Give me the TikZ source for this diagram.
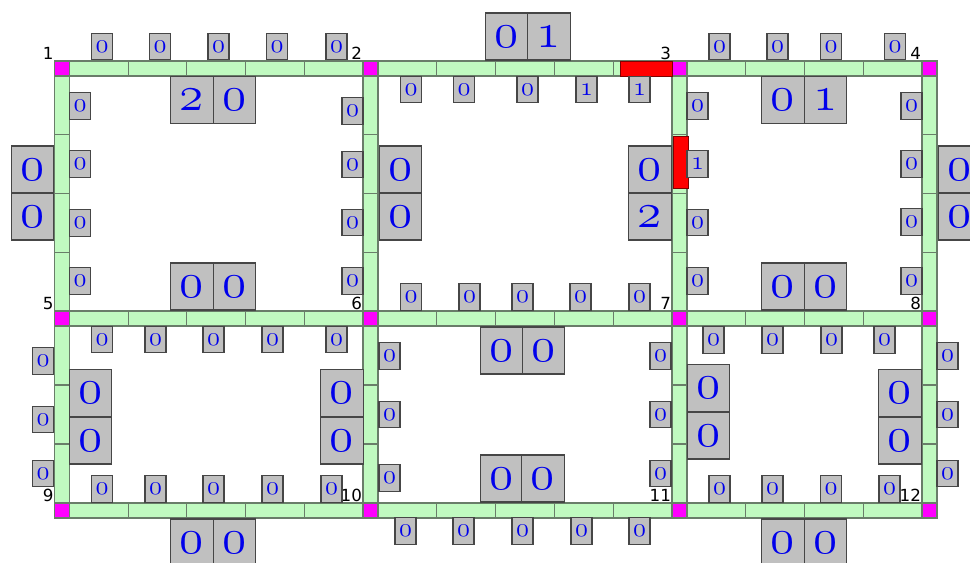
\RequirePackage{fix-cm}
\documentclass[tikz,border=0pt]{standalone}
\usepackage{fontspec}
\usetikzlibrary{positioning, calc}
\newfontfamily\vtxfont{DejaVu Sans}
\definecolor{roadgreen}{RGB}{192, 250, 192}
\definecolor{roadedge}{RGB}{105, 125, 105}
\definecolor{cellgray}{RGB}{192, 192, 192}
\definecolor{celledge}{RGB}{70, 70, 70}
\definecolor{vtxpink}{RGB}{255, 0, 255}
\definecolor{digitblue}{RGB}{0, 0, 235}
\newcommand{\odig}[1]{\legacyoldstylenums{#1}}

\tikzset{
  seg/.style={fill=roadgreen, draw=roadedge, line width=0.6pt},
  vtx/.style={rectangle, fill=vtxpink, draw=roadedge, line width=0.6pt,
    minimum size=0.3cm, inner sep=0pt, outer sep=0pt},
  vlabel/.style={font=\vtxfont\fontsize{9.5}{10}\selectfont, inner sep=0.4pt},
  smallcell/.style={rectangle, fill=cellgray, draw=celledge, line width=0.6pt,
    minimum width=0.42cm, minimum height=0.53cm, inner sep=0pt,
    text=digitblue, font=\fontsize{15}{15}\selectfont},
  bigcell/.style={smallcell, minimum width=0.85cm, minimum height=0.94cm,
    text depth=-0.05cm, font=\bfseries\fontsize{28}{28}\selectfont},
  blocked/.style={fill=red, draw=red!50!black, line width=0.5pt},
}

\begin{document}
\begin{tikzpicture}[x=0.02cm, y=-0.02cm]
\useasboundingbox (0,0) rectangle (970,563);
\clip (0,0) rectangle (970,563);
\fill[white] (0,0) rectangle (970,563);

% ============================================================
% Kreuzungen 1--12
% ============================================================
\foreach \k/\x/\y in {1/62/68.5, 2/370.5/68.5, 3/679.5/68.5, 4/929.5/68.5,
                      5/62/318.5, 6/370.5/318.5, 7/679.5/318.5, 8/929.5/318.5,
                      9/62/510.5, 10/370.5/510.5, 11/679.5/510.5, 12/929.5/510.5}
  \node[vtx] (v\k) at (\x,\y) {};

% Strassen: waagrecht (von/nach/Abschnitte)
\foreach \a/\b/\n in {1/2/5, 2/3/5, 3/4/4, 5/6/5, 6/7/5, 7/8/4, 9/10/5, 10/11/5, 11/12/4}
  \foreach \i in {1,...,\n}
    \draw[seg] ($(v\a.north east)!{(\i-1)/\n}!(v\b.north west)$)
      rectangle ($(v\a.south east)!{\i/\n}!(v\b.south west)$);

% Strassen: senkrecht
\foreach \a/\b/\n in {1/5/4, 2/6/4, 3/7/4, 4/8/4, 5/9/3, 6/10/3, 7/11/3, 8/12/3}
  \foreach \i in {1,...,\n}
    \draw[seg] ($(v\a.south west)!{(\i-1)/\n}!(v\b.north west)$)
      rectangle ($(v\a.south east)!{\i/\n}!(v\b.north east)$);

% gesperrte Abschnitte (rot)
\fill[blocked] (620,61) rectangle (672,76);
\fill[blocked] (673,136) rectangle (688,188);

% Nummern
\foreach \k in {1,...,12}
  \node[vlabel, above left=0pt of v\k] (l\k) {\k};

% ============================================================
% kleine Zaehler an den Abschnitten
% ============================================================
% oberste Reihe
\foreach \x/\t [count=\k] in {102/0, 160/0, 218.5/0, 277/0, 336.5/0}
  \node[smallcell] (s12-\k) at (\x,46.5) {\odig{\t}};
\foreach \x/\t [count=\k] in {411/0, 464/0, 527.5/0, 586.5/1, 639.5/1}
  \node[smallcell] (s23-\k) at (\x,89.5) {\odig{\t}};
\foreach \x/\t [count=\k] in {719.5/0, 777.5/0, 831/0, 895/0}
  \node[smallcell] (s34-\k) at (\x,46.5) {\odig{\t}};

% mittlere Reihe
\foreach \x/\t [count=\k] in {102/0, 155.5/0, 213.5/0, 272.5/0, 336.5/0}
  \node[smallcell] (s56-\k) at (\x,339.5) {\odig{\t}};
\foreach \x/\t [count=\k] in {411/0, 469.5/0, 522.5/0, 580.5/0, 639.5/0}
  \node[smallcell] (s67-\k) at (\x,297) {\odig{\t}};
\foreach \x/\t [count=\k] in {713.5/0, 772.5/0, 831.5/0, 884.5/0}
  \node[smallcell] (s78-\k) at (\x,340) {\odig{\t}};

% unterste Reihe
\foreach \x/\t [count=\k] in {102/0, 155.5/0, 213.5/0, 272.5/0, 331.5/0}
  \node[smallcell] (s910-\k) at (\x,489) {\odig{\t}};
\foreach \x/\t [count=\k] in {405.5/0, 463.5/0, 522.5/0, 581.5/0, 639.5/0}
  \node[smallcell] (s1011-\k) at (\x,531) {\odig{\t}};
\foreach \x/\t [count=\k] in {719.5/0, 772.5/0, 831/0, 889.5/0}
  \node[smallcell] (s1112-\k) at (\x,489) {\odig{\t}};

% senkrechte Strassen oben
\foreach \y/\t [count=\k] in {106/0, 164/0, 223/0, 281/0}
  \node[smallcell] (s15-\k) at (80,\y) {\odig{\t}};
\foreach \y/\t [count=\k] in {111/0, 164.5/0, 222.5/0, 281/0}
  \node[smallcell] (s26-\k) at (352.5,\y) {\odig{\t}};
\foreach \y/\t [count=\k] in {106/0, 164/1, 222.5/0, 281/0}
  \node[smallcell] (s37-\k) at (697.5,\y) {\odig{\t}};
\foreach \y/\t [count=\k] in {106/0, 164/0, 222/0, 281/0}
  \node[smallcell] (s48-\k) at (911.5,\y) {\odig{\t}};

% senkrechte Strassen unten
\foreach \y/\t [count=\k] in {361/0, 419.5/0, 473.5/0}
  \node[smallcell] (s59-\k) at (43,\y) {\odig{\t}};
\foreach \y/\t [count=\k] in {356/0, 414.5/0, 478/0}
  \node[smallcell] (s610-\k) at (389.5,\y) {\odig{\t}};
\foreach \y/\t [count=\k] in {356/0, 414.5/0, 473.5/0}
  \node[smallcell] (s711-\k) at (660.5,\y) {\odig{\t}};
\foreach \y/\t [count=\k] in {356/0, 414.5/0, 473.5/0}
  \node[smallcell] (s812-\k) at (947.5,\y) {\odig{\t}};

% ============================================================
% grosse Zaehler (zwei Felder je Strasse)
% ============================================================
\foreach \nm/\x/\y/\t in {b12a/192/100/2, b12b/234.5/100/0,
    b23a/506.5/36.5/0, b23b/549/36.5/1,
    b34a/783/100/0, b34b/825.5/100/1,
    b56a/192/286.5/0, b56b/234.5/286.5/0,
    b67a/502/350.5/0, b67b/543.5/350.5/0,
    b78a/783/286.5/0, b78b/825.5/286.5/0,
    b910a/192/542.5/0, b910b/234.5/542.5/0,
    b1011a/501.5/478.5/0, b1011b/543/478.5/0,
    b1112a/783/542.5/0, b1112b/825.5/542.5/0,
    b15a/32.5/169.5/0, b15b/32.5/216.5/0,
    b26a/400.5/169.5/0, b26b/400.5/216.5/0,
    b37a/650/169.5/0, b37b/650/216.5/2,
    b48a/959.5/169.5/0, b48b/959.5/216.5/0,
    b59a/90.5/393/0, b59b/90.5/440.5/0,
    b610a/342/393/0, b610b/342/440.5/0,
    b711a/708.5/388/0, b711b/708.5/435.5/0,
    b812a/900/393/0, b812b/900/440.5/0}
  \node[bigcell] (\nm) at (\x,\y) {\odig{\t}};

\end{tikzpicture}
\end{document}
